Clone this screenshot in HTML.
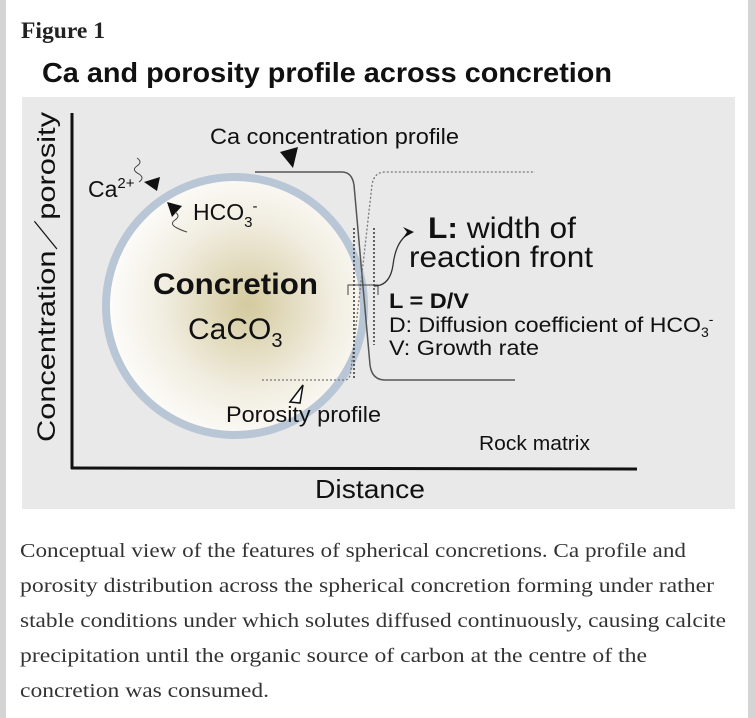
<!DOCTYPE html>
<html><head><meta charset="utf-8"><style>
html,body{margin:0;padding:0;width:755px;height:718px;overflow:hidden;background:#fff;}
.bar{position:absolute;top:0;bottom:0;width:6px;background:#d4d4d4;}
</style></head><body>
<div class="bar" style="left:0"></div><div class="bar" style="right:0;width:7px"></div>
<svg width="755" height="718" style="position:absolute;left:0;top:0" font-family="Liberation Sans, sans-serif">
<defs><radialGradient id="g" cx="0.55" cy="0.5" r="0.55"><stop offset="0" stop-color="#d4ca9e"/><stop offset="0.6" stop-color="#f1ede0"/><stop offset="1" stop-color="#fdfdfb"/></radialGradient></defs>
<text x="21" y="38" font-family="Liberation Serif, serif" font-size="23" font-weight="bold" fill="#222" textLength="84" lengthAdjust="spacingAndGlyphs">Figure 1</text>
<text x="42" y="82" font-size="28" font-weight="bold" fill="#111" textLength="570" lengthAdjust="spacingAndGlyphs">Ca and porosity profile across concretion</text>
<rect x="22" y="97" width="713" height="412" fill="#e9e9e9"/>
<line x1="72" y1="113" x2="72" y2="469" stroke="#111" stroke-width="3"/>
<line x1="71" y1="468" x2="637" y2="469" stroke="#111" stroke-width="3"/>
<text transform="translate(55,442) rotate(-90)" font-size="25" fill="#111" textLength="330" lengthAdjust="spacingAndGlyphs">Concentration／porosity</text>
<text x="315" y="498" font-size="26" fill="#111" textLength="110" lengthAdjust="spacingAndGlyphs">Distance</text>
<text x="479" y="450" font-size="20" fill="#111" textLength="111" lengthAdjust="spacingAndGlyphs">Rock matrix</text>
<circle cx="235" cy="306" r="129" fill="url(#g)" stroke="#b8c6d6" stroke-width="8"/>
<text x="153" y="294" font-size="30" font-weight="bold" fill="#111" textLength="165" lengthAdjust="spacingAndGlyphs">Concretion</text>
<text x="188" y="339" font-size="30" fill="#111">CaCO<tspan font-size="20" dy="8">3</tspan></text>
<text x="210" y="144" font-size="22" fill="#111" textLength="249" lengthAdjust="spacingAndGlyphs">Ca concentration profile</text>
<path d="M255 172 H342 Q352 172 354 185 L370 365 Q372 380 385 380 H515" fill="none" stroke="#555" stroke-width="1.5"/>
<polygon points="280,152 298,147 293,168" fill="#111"/>
<path d="M262 380 H345 Q350 380 351 370 L372 185 Q374 172 385 172 H535" fill="none" stroke="#777" stroke-width="1.3" stroke-dasharray="2,2"/>
<polygon points="290,402 303,385 300,403" fill="#fff" stroke="#111" stroke-width="1.5"/>
<text x="226" y="422" font-size="22" fill="#111" textLength="155" lengthAdjust="spacingAndGlyphs">Porosity profile</text>
<line x1="354" y1="228" x2="354" y2="380" stroke="#333" stroke-width="1.5" stroke-dasharray="2,2"/>
<line x1="374" y1="228" x2="374" y2="345" stroke="#333" stroke-width="1.5" stroke-dasharray="2,2"/>
<path d="M348 295 V285 H378 V295" fill="none" stroke="#444" stroke-width="1"/>
<path d="M374 286 Q390 286 393 265 Q396 240 410 233" fill="none" stroke="#333" stroke-width="1.3"/>
<polygon points="403,227 414,232 403,238 407,232" fill="#111"/>
<text x="428" y="238" font-size="30" fill="#111" textLength="148" lengthAdjust="spacingAndGlyphs"><tspan font-weight="bold">L:</tspan> width of</text>
<text x="409" y="267" font-size="30" fill="#111" textLength="184" lengthAdjust="spacingAndGlyphs">reaction front</text>
<text x="389" y="308" font-size="21" font-weight="bold" fill="#111" textLength="80" lengthAdjust="spacingAndGlyphs">L = D/V</text>
<text x="389" y="332" font-size="21" fill="#111"><tspan textLength="312" lengthAdjust="spacingAndGlyphs">D: Diffusion coefficient of HCO</tspan><tspan font-size="14" dy="5">3</tspan><tspan font-size="14" dy="-13">-</tspan></text>
<text x="389" y="355" font-size="21" fill="#111" textLength="150" lengthAdjust="spacingAndGlyphs">V: Growth rate</text>
<text x="88" y="197" font-size="23" fill="#111">Ca<tspan font-size="15" dy="-9">2+</tspan></text>
<path d="M137 158 q6 4 0 8 q-6 4 2 8 q6 4 0 8" fill="none" stroke="#444" stroke-width="1"/>
<polygon points="144,182 160,177 157,191" fill="#111"/>
<text x="193" y="220" font-size="23" fill="#111">HCO<tspan font-size="15" dy="7">3</tspan><tspan font-size="15" dy="-16">-</tspan></text>
<polygon points="167,202 182,206 172,217" fill="#111"/>
<path d="M175 212 q6 4 0 8 q-6 4 2 8 q6 3 10 4" fill="none" stroke="#444" stroke-width="1"/>
<g font-family="Liberation Serif, serif" font-size="20" fill="#333" lengthAdjust="spacingAndGlyphs">
<text x="20" y="557" textLength="666" lengthAdjust="spacingAndGlyphs">Conceptual view of the features of spherical concretions. Ca profile and</text>
<text x="20" y="592" textLength="694" lengthAdjust="spacingAndGlyphs">porosity distribution across the spherical concretion forming under rather</text>
<text x="20" y="627" textLength="706" lengthAdjust="spacingAndGlyphs">stable conditions under which solutes diffused continuously, causing calcite</text>
<text x="20" y="662" textLength="627" lengthAdjust="spacingAndGlyphs">precipitation until the organic source of carbon at the centre of the</text>
<text x="20" y="697" textLength="249" lengthAdjust="spacingAndGlyphs">concretion was consumed.</text>
</g>
</svg>
</body></html>
